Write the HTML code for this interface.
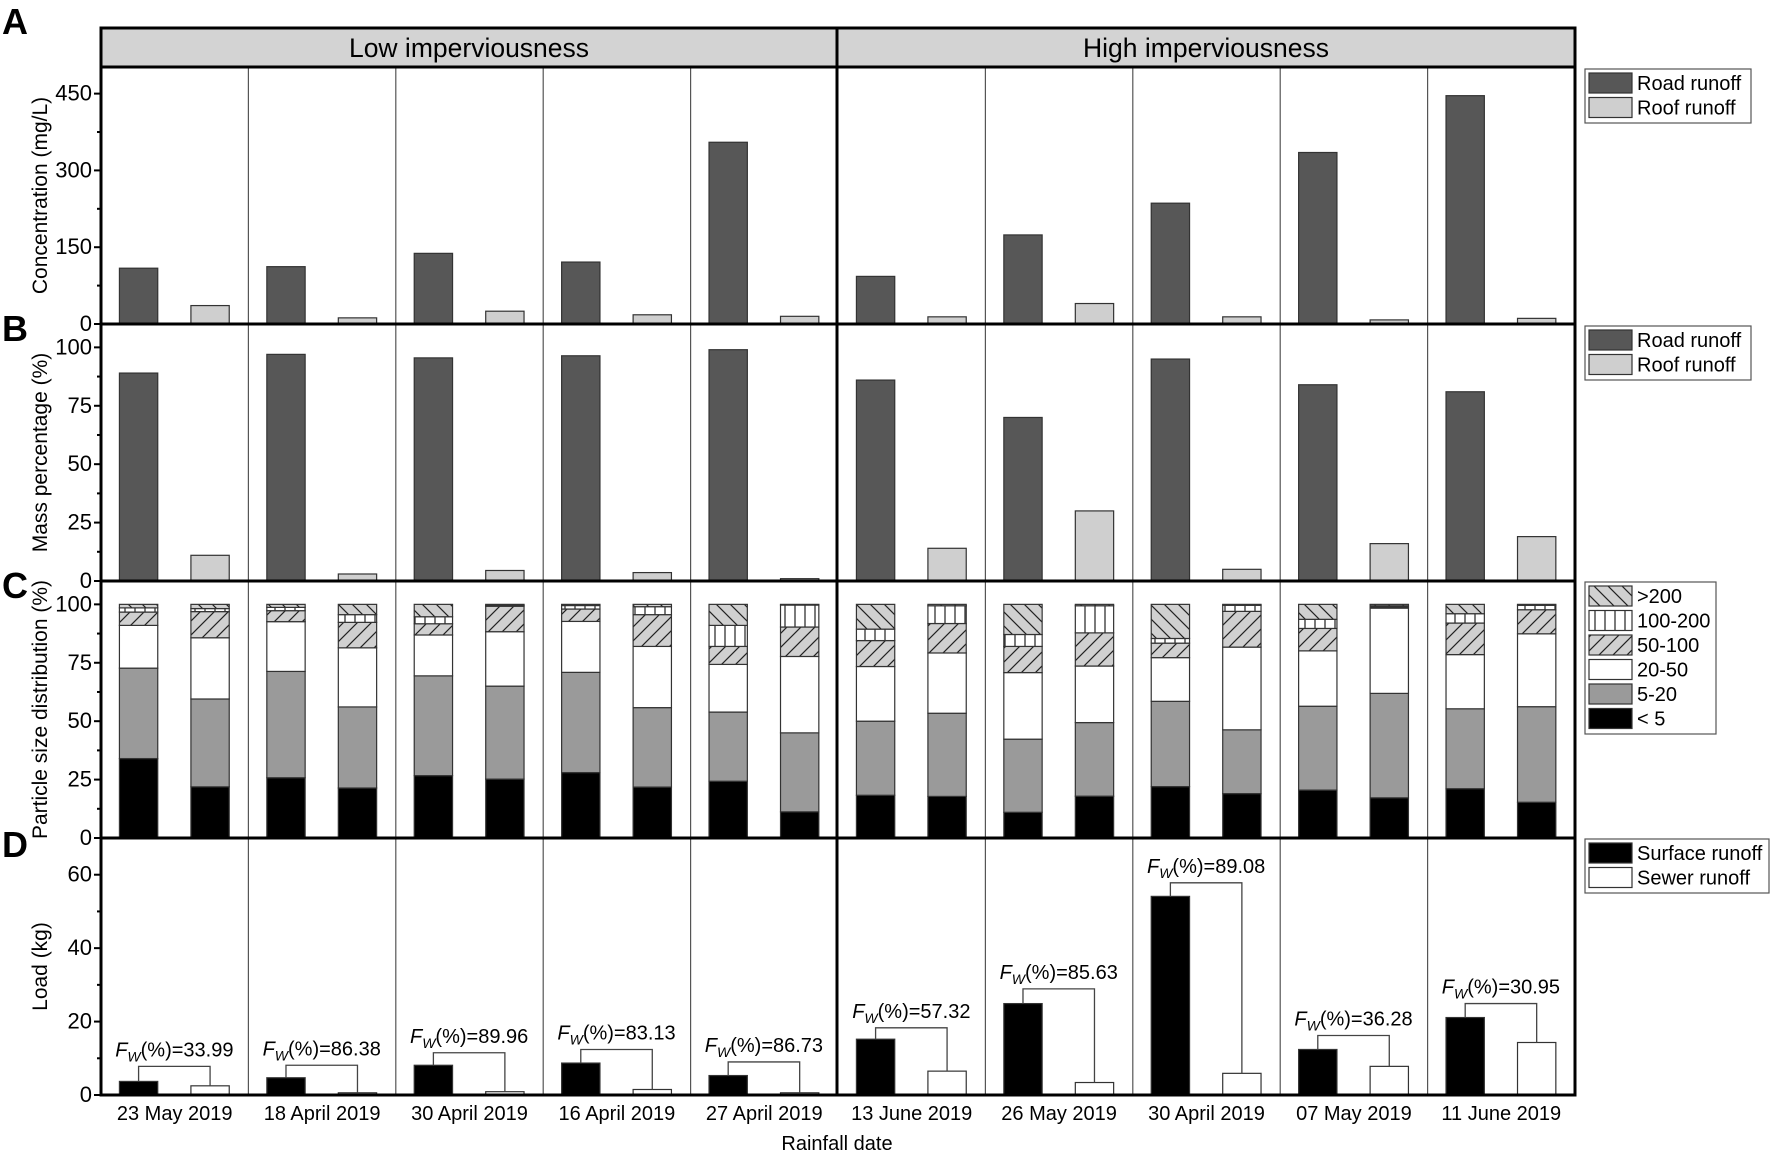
<!DOCTYPE html>
<html><head><meta charset="utf-8">
<style>
html,body{margin:0;padding:0;background:#fff;}
svg{display:block;font-family:"Liberation Sans",sans-serif;}
</style></head>
<body>
<svg id="chart" width="1772" height="1155" viewBox="0 0 1772 1155" xmlns="http://www.w3.org/2000/svg">
<defs>
<pattern id="pBack" patternUnits="userSpaceOnUse" width="14" height="14"><rect width="14" height="14" fill="#d0d0d0"/><path d="M-3,-3 L17,17 M-3,11 L3,17 M11,-3 L17,3" stroke="#222" stroke-width="1.2"/></pattern>
<pattern id="pVert" patternUnits="userSpaceOnUse" width="10" height="10"><rect width="10" height="10" fill="#fff"/><path d="M5,0 L5,10" stroke="#222" stroke-width="1.2"/></pattern>
<pattern id="pFwd" patternUnits="userSpaceOnUse" width="14" height="14"><rect width="14" height="14" fill="#d0d0d0"/><path d="M-3,17 L17,-3 M-3,3 L3,-3 M11,17 L17,11" stroke="#222" stroke-width="1.2"/></pattern>
</defs>
</svg>
<script>
const dates=["23 May 2019","18 April 2019","30 April 2019","16 April 2019","27 April 2019","13 June 2019","26 May 2019","30 April 2019","07 May 2019","11 June 2019"];
const concRoad=[109,112,138,121,355,93,174,236,335,446];
const concRoof=[36,12,25,18,15,14,40,14,8,11];
const massRoad=[89,97,95.5,96.4,99,86,70,95,84,81];
const massRoof=[11,3,4.5,3.6,1,14,30,5,16,19];
// cumulative tops for: <5, 5-20, 20-50, 50-100, 100-200, >200
const psdRoad=[[34,72.7,91,96.7,98.5,100],[25.8,71.3,92.6,97.3,98.7,100],[26.7,69.4,86.9,91.7,94.7,100],[28,70.9,92.7,98,99.5,100],[24.3,53.9,74.3,82,91,100],[18.3,50,73.4,84.5,89.4,100],[11,42.3,70.8,82,87.1,100],[22,58.5,77.2,83.4,85.4,100],[20.5,56.4,80.1,89.7,93.6,100],[21.1,55.3,78.5,92,96,100]];
const psdRoof=[[21.9,59.5,85.7,96.9,98.2,100],[21.4,56.1,81.4,92.3,95.6,100],[25.2,65,88.3,99.2,99.6,100],[21.8,55.8,82,95.6,99,100],[11.2,45,77.7,90.3,99.7,100],[17.8,53.4,79.2,91.8,99.4,100],[17.9,49.4,73.6,87.8,99.4,100],[19,46.3,81.7,97,99.6,100],[17.2,61.9,98.4,98.9,99.4,100],[15.3,56.2,87.4,97.7,99.6,100]];
const loadSurface=[3.7,4.7,8.1,8.7,5.3,15.2,24.9,54.1,12.4,21.1];
const loadSewer=[2.5,0.6,0.9,1.5,0.6,6.5,3.4,5.9,7.8,14.3];
const fwValues=["33.99","86.38","89.96","83.13","86.73","57.32","85.63","89.08","36.28","30.95"];
const bracketY=[7.8,8.1,11.5,12.4,9.0,18.3,28.9,57.8,16.2,24.9];
const ticksA=[0,150,300,450], ticksB=[0,25,50,75,100], ticksC=[0,25,50,75,100], ticksD=[0,20,40,60];

const NS="http://www.w3.org/2000/svg";
const svg=document.getElementById('chart');
function el(tag,attrs,parent){const e=document.createElementNS(NS,tag);for(const k in attrs)e.setAttribute(k,attrs[k]);(parent||svg).appendChild(e);return e;}
const L=101,R=1575,GW=(R-L)/10;
const panels=[{top:67,bot:324,max:502},{top:324,bot:581,max:110},{top:581,bot:838,max:110},{top:838,bot:1095,max:70}];
function yS(p,v){return p.bot-(v/p.max)*(p.bot-p.top);}
function xG(i,f){return L+GW*i+GW*f;}
const BW=GW*0.26;

const hdr=el('rect',{x:L,y:28,width:R-L,height:39,fill:'#d3d3d3',stroke:'#000','stroke-width':3});

const t1=el('text',{x:(L+837)/2,y:57,'font-size':26.5,'text-anchor':'middle'});t1.textContent='Low imperviousness';

const t2=el('text',{x:(837+R)/2,y:57,'font-size':26.5,'text-anchor':'middle'});t2.textContent='High imperviousness';


for(let i=1;i<10;i++){if(i===5)continue;const d=el('line',{x1:L+GW*i,x2:L+GW*i,y1:67,y2:1095,stroke:'#555','stroke-width':1.2});
}

function bar(x,y0,y1,fill,name){const r=el('rect',{x:x,y:Math.min(y0,y1),width:BW,height:Math.abs(y1-y0),fill:fill,stroke:'#333','stroke-width':1.2});
return r;}

let p=panels[0];
for(let i=0;i<10;i++){bar(xG(i,0.125),p.bot,yS(p,concRoad[i]),'#575757','conc-road-bar');bar(xG(i,0.61),p.bot,yS(p,concRoof[i]),'#cfcfcf','conc-roof-bar');}
p=panels[1];
for(let i=0;i<10;i++){bar(xG(i,0.125),p.bot,yS(p,massRoad[i]),'#575757','mass-road-bar');bar(xG(i,0.61),p.bot,yS(p,massRoof[i]),'#cfcfcf','mass-roof-bar');}
p=panels[2];
const segFill=['#000','#9a9a9a','#fff','url(#pFwd)','url(#pVert)','url(#pBack)'];
function stack(x,arr){let prev=0;for(let k=0;k<6;k++){bar(x,yS(p,prev),yS(p,arr[k]),segFill[k],'psd-segment');prev=arr[k];}}
for(let i=0;i<10;i++){stack(xG(i,0.125),psdRoad[i]);stack(xG(i,0.61),psdRoof[i]);}
p=panels[3];
for(let i=0;i<10;i++){
 const xa=xG(i,0.125),xb=xG(i,0.61);
 bar(xa,p.bot,yS(p,loadSurface[i]),'#000','load-surface-bar');
 bar(xb,p.bot,yS(p,loadSewer[i]),'#fff','load-sewer-bar');
 const ca=xa+BW/2,cb=xb+BW/2,by=yS(p,bracketY[i]);
 const br=el('path',{d:`M${ca},${yS(p,loadSurface[i])} L${ca},${by} L${cb},${by} L${cb},${yS(p,loadSewer[i])}`,fill:'none',stroke:'#444','stroke-width':1.3});
 
 const tx=el('text',{x:(ca+cb)/2,y:by-10,'font-size':20,'text-anchor':'middle'});
 tx.innerHTML='<tspan font-style="italic">F</tspan><tspan font-style="italic" font-size="14" dy="5">W</tspan><tspan dy="-5">(%)='+fwValues[i]+'</tspan>';
 
 const dl=el('text',{x:L+GW*i+GW/2,y:1120,'font-size':20,'text-anchor':'middle'});dl.textContent=dates[i];
 
}

const fr=el('rect',{x:L,y:67,width:R-L,height:1095-67,fill:'none',stroke:'#000','stroke-width':3});

[324,581,838].forEach(y=>{const h=el('line',{x1:L,x2:R,y1:y,y2:y,stroke:'#000','stroke-width':3});});
const mid=el('line',{x1:837,x2:837,y1:28,y2:1095,stroke:'#000','stroke-width':3});


const tickSets=[ticksA,ticksB,ticksC,ticksD];
tickSets.forEach((ts,pi)=>{const pp=panels[pi];const step=ts[1]-ts[0];
 for(let v=0;v<=pp.max;v+=step/2){const y=yS(pp,v);const major=ts.includes(v);
  const tk=el('line',{x1:L-(major?7:4),x2:L,y1:y,y2:y,stroke:'#000','stroke-width':2});}
 ts.forEach(v=>{const y=yS(pp,v);const t=el('text',{x:L-9,y:y+7,'font-size':22,'text-anchor':'end'});t.textContent=v;
  });
});
const titles=['Concentration (mg/L)','Mass percentage (%)','Particle size distribution (%)','Load (kg)'];
titles.forEach((s,i)=>{const pp=panels[i];const cy=(pp.top+pp.bot)/2;
 const t=el('text',{x:0,y:0,'font-size':21,'text-anchor':'middle',transform:`translate(47,${cy}) rotate(-90)`});t.textContent=s;
 });
['A','B','C','D'].forEach((s,i)=>{const ys=[34,341,598,857];const t=el('text',{x:2,y:ys[i],'font-size':36,'font-weight':'bold'});t.textContent=s;
 });
const xt=el('text',{x:837,y:1150,'font-size':20,'text-anchor':'middle'});xt.textContent='Rainfall date';


function legend(x,y,w,items,name){
 const g=el('g',{});
 el('rect',{x:x,y:y,width:w,height:items.length*24.5+5,fill:'#fff',stroke:'#555','stroke-width':1.2},g);
 items.forEach((it,k)=>{const yy=y+4+k*24.5;
  const s=el('rect',{x:x+4,y:yy,width:43,height:20,fill:it[1],stroke:'#333','stroke-width':1.2},g);
  
  const t=el('text',{x:x+52,y:yy+17,'font-size':20},g);t.textContent=it[0];
  });
}
legend(1585,69,166,[['Road runoff','#575757'],['Roof runoff','#cfcfcf']],'legend-a');
legend(1585,326,166,[['Road runoff','#575757'],['Roof runoff','#cfcfcf']],'legend-b');
legend(1585,582,131,[['>200','url(#pBack)'],['100-200','url(#pVert)'],['50-100','url(#pFwd)'],['20-50','#fff'],['5-20','#9a9a9a'],['< 5','#000']],'legend-c');
legend(1585,839,184,[['Surface runoff','#000'],['Sewer runoff','#fff']],'legend-d');
</script>
</body></html>
